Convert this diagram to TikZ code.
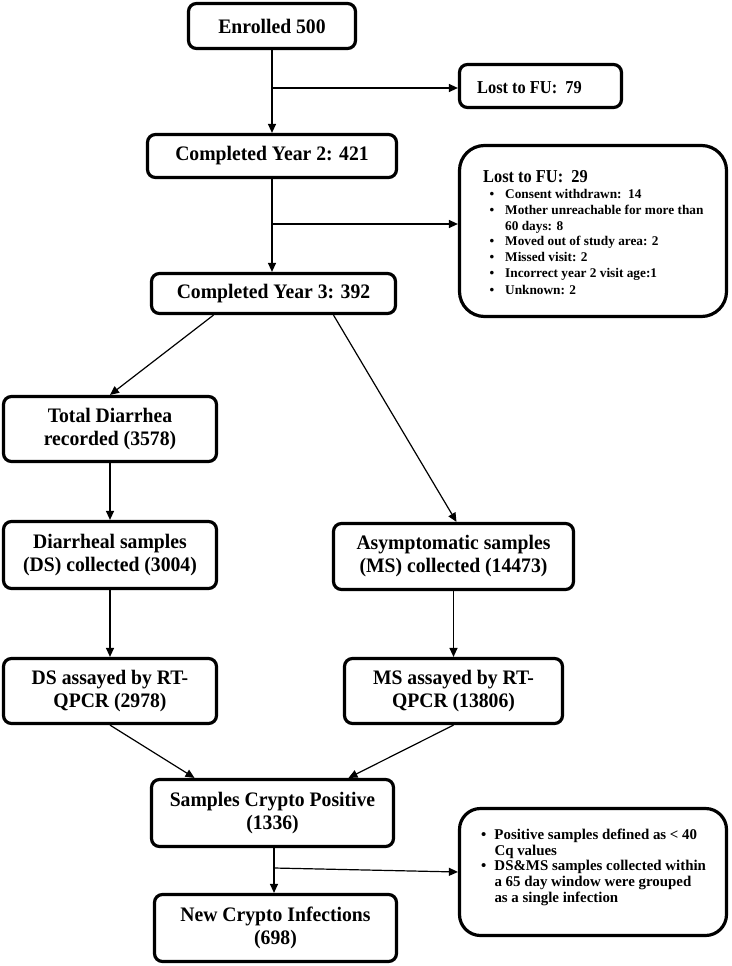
\documentclass[tikz,border=0pt]{standalone}
\usepackage{fontspec}
\setmainfont{Liberation Serif}
\newfontfamily\boxfont[FakeStretch=0.955]{Liberation Serif}
\newfontfamily\ttlfont[FakeStretch=0.9]{Liberation Serif}
\usetikzlibrary{arrows.meta,calc}
\begin{document}
\begin{tikzpicture}[x=1pt,y=-1pt,
  box/.style={draw, line width=3.2pt, rounded corners=8pt, align=center, inner sep=0pt,
    font=\boxfont\fontsize{20.6}{23}\selectfont\bfseries},
  arr/.style={line width=1.2pt, -{Triangle[length=9pt,width=8pt]}},
  ttl/.style={anchor=base west, inner sep=0pt, font=\ttlfont\fontsize{18.2}{20}\selectfont\bfseries},
  itemA/.style={anchor=base west, inner sep=0pt, font=\fontsize{13.3}{16}\selectfont\bfseries},
  itemB/.style={anchor=base west, inner sep=0pt, font=\fontsize{14.9}{16}\selectfont\bfseries}]
\useasboundingbox (0,0) rectangle (731,966);

% main column
\node[box, minimum width=167pt, minimum height=45pt] (enr) at (272,26) {Enrolled 500};
\node[box, minimum width=162pt, minimum height=43pt] (lost79) at (540.5,86) {};
\node[ttl] (lost79t) at (477,93) {Lost to FU:\ \ 79};

\node[box, minimum width=249pt, minimum height=43pt] (y2) at (272,156) {Completed Year 2: 421};
\node[box, rounded corners=25pt, minimum width=267pt, minimum height=171pt] (lost29) at (593,231) {};
\node[ttl] (lost29t) at (483,182.5) {Lost to FU:\ \ 29};
\node[itemA] (l1) at (489.5,198.5) {\makebox[15.5pt][l]{•}Consent withdrawn:\ \ 14};
\node[itemA] (l2) at (489.5,214.5) {\makebox[15.5pt][l]{•}Mother unreachable for more than};
\node[itemA] (l3) at (489.5,230) {\hspace*{15.5pt}60 days: 8};
\node[itemA] (l4) at (489.5,245.5) {\makebox[15.5pt][l]{•}Moved out of study area: 2};
\node[itemA] (l5) at (489.5,261.5) {\makebox[15.5pt][l]{•}Missed visit: 2};
\node[itemA] (l6) at (489.5,277.5) {\makebox[15.5pt][l]{•}Incorrect year 2 visit age:1};
\node[itemA] (l7) at (489.5,294.5) {\makebox[15.5pt][l]{•}Unknown: 2};

\node[box, minimum width=244pt, minimum height=40pt] (y3) at (273.5,293.5) {Completed Year 3: 392};

% left branch
\node[box, minimum width=213pt, minimum height=65pt] (td) at (110,429) {Total Diarrhea\\recorded (3578)};
\node[box, minimum width=213pt, minimum height=67pt] (dsc) at (110,555) {Diarrheal samples\\(DS) collected (3004)};
\node[box, minimum width=213pt, minimum height=65pt] (dsa) at (110,691) {DS assayed by RT-\\QPCR (2978)};

% right branch
\node[box, minimum width=240pt, minimum height=66pt] (msc) at (453.5,556.5) {Asymptomatic samples\\(MS) collected (14473)};
\node[box, minimum width=218pt, minimum height=65pt] (msa) at (453.5,691) {MS assayed by RT-\\QPCR (13806)};

% bottom
\node[box, minimum width=242pt, minimum height=67pt] (scp) at (272.5,813) {Samples Crypto Positive\\(1336)};
\node[box, minimum width=242pt, minimum height=67pt] (nci) at (275.5,928) {New Crypto Infections\\(698)};
\node[box, rounded corners=21pt, minimum width=267pt, minimum height=127pt] (notes) at (593,872) {};
\node[itemB] (n1) at (481,839.3) {\makebox[13.3pt][l]{•}Positive samples defined as < 40};
\node[itemB] (n2) at (481,855) {\hspace*{13.3pt}Cq values};
\node[itemB] (n3) at (481,870.7) {\makebox[13.3pt][l]{•}DS\&MS samples collected within};
\node[itemB] (n4) at (481,886.3) {\hspace*{13.3pt}a 65 day window were grouped};
\node[itemB] (n5) at (481,902) {\hspace*{13.3pt}as a single infection};

% connectors
\draw[arr] (enr.south) -- (y2.north);
\coordinate (b1) at (272,88);
\draw[arr] (b1) -- (b1 -| lost79.west);
\draw[arr] (y2.south) -- (y2.south |- y3.north);
\coordinate (b2) at (272,224);
\draw[arr] (b2) -- (b2 -| lost29.west);
\draw[arr] ([xshift=-60pt]y3.south) -- (td.north);
\draw[arr] ([xshift=60pt]y3.south) -- ([xshift=3pt]msc.north);
\draw[arr] (td.south) -- (dsc.north);
\draw[arr] (dsc.south) -- (dsa.north);
\draw[arr] (msc.south) -- (msa.north);
\draw[arr] (dsa.south) -- ([xshift=-78pt]scp.north);
\draw[arr] (msa.south) -- ([xshift=76pt]scp.north);
\draw[arr] ([xshift=1.5pt]scp.south) -- ([xshift=1.5pt]scp.south |- nci.north);
\coordinate (b3) at (274,868);
\draw[arr] (b3) -- (notes.west);
\end{tikzpicture}
\end{document}
